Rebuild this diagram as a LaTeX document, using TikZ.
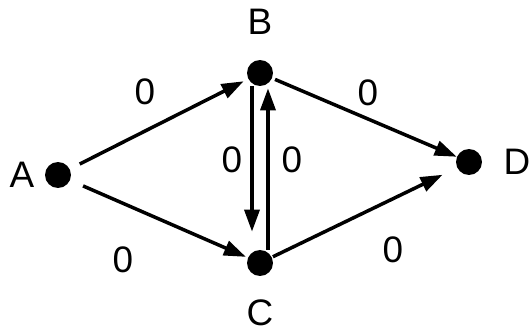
\documentclass[tikz,border=0pt]{standalone}
\usepackage{fontspec}
\setmainfont{Liberation Sans}
\usetikzlibrary{arrows.meta,positioning}
\tikzset{arr/.style={draw, -{Triangle[length=0.44cm,width=0.3cm]}, line width=0.07cm},
         vertex/.style={circle, fill=black, inner sep=0pt, minimum size=0.52cm},
         weight/.style={inner sep=1pt}}

\begin{document}
\begin{tikzpicture}[x=0.02cm, y=-0.02cm, font=\fontsize{21}{24}\selectfont,
                    every label/.style={inner sep=2pt}]
    \useasboundingbox (0,0) rectangle (529,331);

    % the four vertices with their letters
    \node[vertex, label={[label distance=0.13cm]left:A}] (A) at (58,175) {};
    \node[vertex, label={[label distance=0.42cm]above:B}] (B) at (260,73) {};
    \node[vertex, label={[label distance=0.39cm]below:C}] (C) at (260,263) {};
    \node[vertex, label={[label distance=0.35cm]right:D}] (D) at (469,162) {};

    % edges, all of weight 0
    \draw[arr, shorten <=0.22cm, shorten >=0.1cm] (A) -- (B);
    \draw[arr, shorten <=0.28cm, shorten >=0.04cm] (A) -- (C);
    \draw[arr, shorten <=0.06cm, shorten >=0pt] (B) -- (D);
    \draw[arr, shorten <=0.02cm, shorten >=0.32cm] (C) -- (D);
    \draw[arr, shorten >=0.36cm] ([xshift=-0.16cm]B.south) -- ([xshift=-0.16cm]C.north);
    \draw[arr, shorten >=0.04cm] ([xshift=0.16cm]C.north) -- ([xshift=0.16cm]B.south);

    \node[weight] (wAB) at (145,92) {0};
    \node[weight] (wAC) at (123,260) {0};
    \node[weight] (wBD) at (368,93) {0};
    \node[weight] (wCD) at (393,250) {0};
    \node[weight] (wBC) at (232,160) {0};
    \node[weight] (wCB) at (292,160) {0};
\end{tikzpicture}
\end{document}
